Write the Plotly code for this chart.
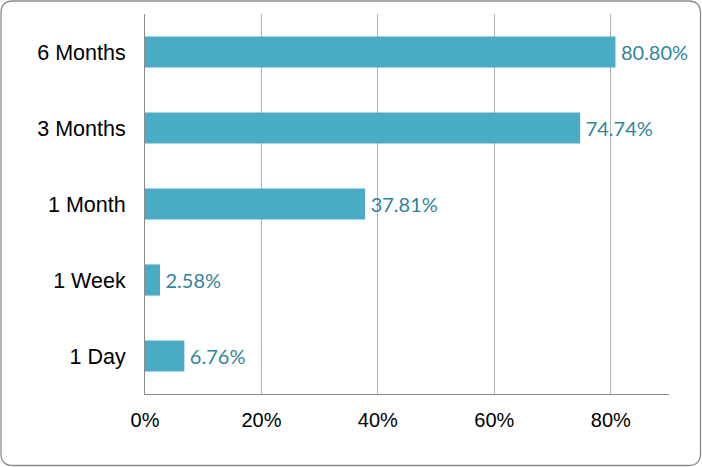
import plotly.graph_objects as go

categories = ["1 Day", "1 Week", "1 Month", "3 Months", "6 Months"]
values = [6.76, 2.58, 37.81, 74.74, 80.80]
x_ticks = [0, 20, 40, 60, 80]
x_tick_labels = ["0%", "20%", "40%", "60%", "80%"]

W, H = 702, 467
L, R, T, B = 145, 33, 14, 73
pw, ph = W - L - R, H - T - B

def px(x):
    return (x - L) / pw

def py(y):
    return (H - B - y) / ph

fig = go.Figure(go.Bar(
    y=categories, x=values, orientation="h",
    marker=dict(color="#4BACC6", line=dict(width=0)),
    width=0.41,
    text=[f"\u2009{v:.2f}%" for v in values],
    textposition="outside",
    textfont=dict(family="Lato", size=20, color="#31859C"),
    cliponaxis=False,
    hoverinfo="skip",
))

# rounded outer border
x0, x1, y0, y1, r = 1, 700.5, 1, 465.5, 12
path = (
    f"M {px(x0 + r)} {py(y0)} L {px(x1 - r)} {py(y0)} "
    f"Q {px(x1)} {py(y0)} {px(x1)} {py(y0 + r)} "
    f"L {px(x1)} {py(y1 - r)} Q {px(x1)} {py(y1)} {px(x1 - r)} {py(y1)} "
    f"L {px(x0 + r)} {py(y1)} Q {px(x0)} {py(y1)} {px(x0)} {py(y1 - r)} "
    f"L {px(x0)} {py(y0 + r)} Q {px(x0)} {py(y0)} {px(x0 + r)} {py(y0)} Z"
)

fig.update_layout(
    width=W, height=H,
    margin=dict(l=L, r=R, t=T, b=B),
    paper_bgcolor="white", plot_bgcolor="white",
    showlegend=False,
    shapes=[dict(type="path", xref="paper", yref="paper", path=path,
                 line=dict(color="#8C8C8C", width=1.3), layer="below")],
    xaxis=dict(
        range=[0, 90], tickvals=x_ticks, ticktext=x_tick_labels,
        showgrid=True, gridcolor="#B3B3B3", gridwidth=1,
        showline=True, linecolor="#8C8C8C", linewidth=1,
        zeroline=False, ticks="",
        tickfont=dict(family="Liberation Sans, Arial", size=20, color="black"),
        ticklabelstandoff=8,
    ),
    yaxis=dict(
        showgrid=False, showline=True, linecolor="#8C8C8C", linewidth=1,
        ticks="", zeroline=False,
        tickfont=dict(family="Liberation Sans, Arial", size=21.5, color="black"),
        ticklabelstandoff=14,
    ),
)

fig.write_html(
    "out.html",
    config={"displayModeBar": False, "staticPlot": True},
    post_script="document.body.style.margin='0';document.body.style.overflow='hidden';",
)
